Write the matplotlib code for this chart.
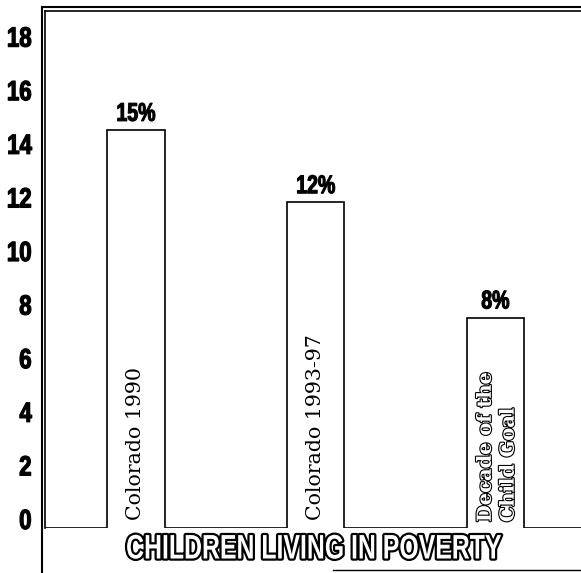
import matplotlib
matplotlib.use("Agg")
from matplotlib import pyplot as plt
from matplotlib import patheffects as pe
from matplotlib import transforms
from matplotlib.transforms import Affine2D
from matplotlib.lines import Line2D
import numpy as np

# values
categories = ["Colorado 1990", "Colorado 1993-97", "Decade of the\nChild Goal"]
values = [14.85, 12.15, 7.85]
value_labels = ["15%", "12%", "8%"]
yticks = list(range(0, 19, 2))
title = "CHILDREN LIVING IN POVERTY"

sans = ["Liberation Sans", "DejaVu Sans"]
serif = ["DejaVu Serif"]


class Squeeze(pe.AbstractPathEffect):
    """Draw text glyphs narrower (fakes a condensed bold face)."""

    def __init__(self, sx, anchor=0.5, stroke=0, stroke_color="black"):
        super().__init__()
        self.sx = sx
        self.anchor = anchor
        self.stroke = stroke
        self.stroke_color = stroke_color

    def draw_path(self, renderer, gc, tpath, affine, rgbFace=None):
        ext = tpath.get_extents()
        a = ext.x0 + self.anchor * ext.width
        aff = Affine2D().translate(-a, 0).scale(self.sx, 1).translate(a, 0) + affine
        if self.stroke:
            gc0 = renderer.new_gc()
            gc0.copy_properties(gc)
            gc0.set_linewidth(self.stroke)
            gc0.set_foreground(self.stroke_color)
            renderer.draw_path(gc0, tpath, aff, None)
            gc0.restore()
        renderer.draw_path(gc, tpath, aff, rgbFace)


W, H = 581, 573
fig = plt.figure(figsize=(W / 100, H / 100), dpi=100)
ax = fig.add_axes([45 / W, 45 / H, 536 / W, 517 / H])

x = np.arange(len(values))
w = 0.32
ax.set_xlim(-0.506, 2.476)
ax.set_ylim(0, 517 / 26.8)

# bars drawn as one open step outline, like the original
edges = [ax.get_xlim()[0]]
steps = [0]
for xi, v in zip(x, values):
    edges += [xi - w / 2, xi + w / 2]
    steps += [v, 0]
edges.append(ax.get_xlim()[1])
ax.stairs(steps, edges, baseline=None, color="black", lw=1.2)

for xi, v, lbl in zip(x, values, value_labels):
    ax.annotate(lbl, (xi, v), xytext=(0, 3), textcoords="offset points",
                ha="center", va="bottom", fontsize=18.5, fontweight="bold", family=sans,
                path_effects=[Squeeze(0.76, stroke=0.8)])

for i, (xi, cat) in enumerate(zip(x, categories)):
    if i < 2:
        ax.text(xi, 0.3, cat, rotation=90, ha="center", va="bottom",
                fontsize=14.8, family=serif)
    else:
        ax.text(xi + 0.01, 0.22, cat, rotation=90, ha="center", va="bottom",
                multialignment="left", linespacing=1.35, fontsize=14,
                fontweight="bold", family=serif, color="white",
                path_effects=[pe.withStroke(linewidth=1.6, foreground="black")])

ax.set_xticks([])
ax.set_yticks(yticks)
ax.set_yticklabels([str(t) for t in yticks], fontsize=20, fontweight="bold", family=sans,
                   path_effects=[Squeeze(0.8, anchor=1.0, stroke=0.9)])
ax.tick_params(axis="y", length=0, pad=9.5)
shift = transforms.ScaledTranslation(0, 0.09, fig.dpi_scale_trans)
for tick in ax.yaxis.get_major_ticks():
    tick.label1.set_transform(tick.label1.get_transform() + shift)

for s in ["bottom", "right"]:
    ax.spines[s].set_visible(False)
for s in ["left", "top"]:
    ax.spines[s].set_linewidth(1.2)

# outer line of the double frame and the rule under the title
fig.add_artist(Line2D([42 / W, 42 / W], [0, 1 - 7 / H], color="black", lw=1.5))
fig.add_artist(Line2D([42 / W, 1], [1 - 7 / H, 1 - 7 / H], color="black", lw=1.5))
fig.add_artist(Line2D([333 / W, 1], [1 - 570 / H, 1 - 570 / H], color="black", lw=1))

fig.text(313 / W, 1 - 550 / H, title, ha="center", va="center", fontsize=24.5,
         fontweight="bold", family=sans, color="white",
         path_effects=[Squeeze(0.73, stroke=3.2)])

fig.savefig("out.png", dpi=100)
